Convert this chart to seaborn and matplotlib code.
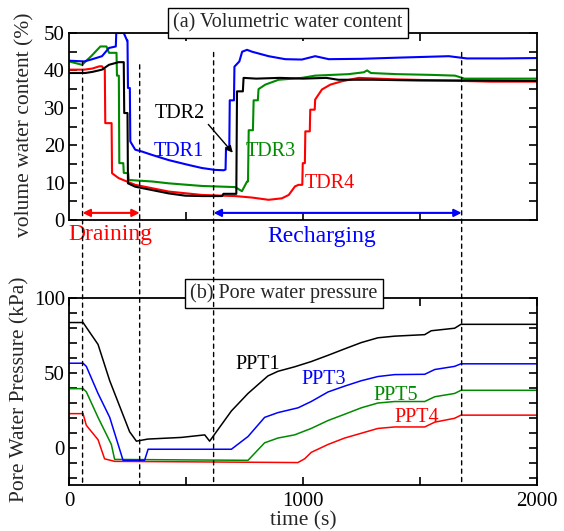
import numpy as np
import pandas as pd
import matplotlib
matplotlib.use("Agg")
import matplotlib.pyplot as plt
import seaborn as sns
from matplotlib.patches import ConnectionPatch

# ---------------- data ----------------
tdr1_t = [0, 65, 100, 141, 171, 200, 202, 234, 248, 250, 252, 260, 262, 283, 312, 355, 427, 512, 568, 624,
          661, 669, 671, 685, 687, 705, 707, 728, 740, 761, 782, 853, 924, 995, 1052, 1110, 1250, 1400, 1623,
          1700, 1850, 2000]
tdr1_v = [42.6, 42.4, 43.0, 43.8, 46.0, 46.4, 50.0, 50.0, 48.0, 48.0, 35.3, 35.3, 21.0, 18.8, 18.3, 17.4, 16.0,
          14.7, 13.9, 13.4, 13.3, 13.5, 19.3, 19.3, 32.0, 32.0, 41.0, 42.4, 45.0, 45.5, 45.0, 43.8, 43.0, 42.9,
          43.8, 43.0, 43.1, 43.4, 43.8, 43.2, 43.2, 43.3]

tdr2_t = [0, 69, 100, 141, 171, 212, 234, 236, 250, 252, 283, 355, 427, 497, 568, 654, 660, 715, 718, 743, 746,
          800, 900, 1000, 1100, 1150, 1300, 1500, 1700, 2000]
tdr2_v = [39.3, 39.3, 39.6, 40.2, 41.5, 42.2, 42.2, 28.6, 28.6, 9.8, 8.9, 8.0, 7.1, 6.5, 6.4, 6.4, 7.0, 7.0, 34.4,
          34.4, 38.0, 37.8, 38.0, 37.8, 38.0, 37.5, 37.5, 37.3, 37.3, 37.2]

tdr3_t = [0, 56, 98, 134, 160, 171, 203, 205, 213, 215, 232, 234, 253, 255, 355, 427, 568, 710, 739, 761, 765,
          768, 786, 789, 807, 810, 839, 896, 995, 1052, 1195, 1260, 1274, 1290, 1400, 1550, 1650, 1690, 2000]
tdr3_v = [42.4, 41.5, 44.0, 46.4, 46.4, 44.7, 44.7, 38.6, 38.6, 15.2, 15.2, 12.6, 12.5, 10.7, 10.3, 9.8, 9.1, 8.8,
          7.7, 10.3, 10.3, 24.0, 24.0, 32.0, 32.0, 35.0, 36.2, 37.5, 38.0, 38.6, 39.0, 39.5, 40.0, 39.3, 39.0,
          38.8, 38.6, 37.8, 37.8]

tdr4_t = [0, 65, 100, 130, 141, 150, 153, 155, 182, 184, 212, 283, 355, 427, 568, 710, 782, 853, 910, 939, 966,
          981, 997, 999, 1008, 1010, 1029, 1031, 1050, 1052, 1081, 1117, 1167, 1238, 1400, 1600, 1800, 2000]
tdr4_v = [40.2, 40.2, 40.5, 41.1, 41.1, 40.3, 40.3, 25.9, 25.9, 12.5, 11.2, 9.4, 8.5, 7.6, 6.7, 6.4, 6.0, 5.4,
          5.8, 6.7, 9.0, 9.4, 9.4, 15.2, 15.2, 23.7, 23.7, 29.5, 29.5, 32.2, 34.9, 36.2, 37.1, 38.0, 37.6, 37.3,
          37.0, 37.0]

ppt1_t = [0, 60, 81, 124, 174, 259, 288, 337, 480, 580, 601, 694, 765, 850, 893, 964, 1035, 1107, 1178, 1249,
          1320, 1392, 1520, 1548, 1648, 1675, 2000]
ppt1_v = [83.6, 83.6, 78.8, 69.0, 44.7, 10.6, 4.3, 5.7, 6.8, 8.5, 4.3, 24.5, 36.2, 47.9, 51.0, 54.0, 57.5, 61.7,
          66.0, 70.2, 73.4, 74.5, 75.5, 78.1, 79.8, 82.4, 82.4]

ppt3_t = [0, 60, 74, 124, 174, 231, 323, 338, 694, 765, 836, 893, 979, 1035, 1107, 1178, 1249, 1320, 1392, 1520,
          1563, 1648, 1675, 2000]
ppt3_v = [56.4, 56.4, 54.3, 36.2, 20.2, -8.5, -8.5, -1.1, -1.1, 7.4, 20.2, 23.4, 26.6, 30.8, 37.2, 41.1, 44.7,
          47.5, 48.8, 49.0, 52.2, 54.3, 56.0, 56.0]

ppt5_t = [0, 60, 74, 124, 181, 195, 765, 836, 893, 964, 1035, 1107, 1178, 1249, 1320, 1392, 1520, 1563, 1648,
          1675, 2000]
ppt5_v = [39.4, 39.4, 37.3, 20.2, 2.1, -7.9, -8.5, 3.2, 6.4, 8.5, 12.8, 18.1, 22.3, 26.6, 29.8, 30.8, 30.8, 34.0,
          36.2, 38.3, 38.3]

ppt4_t = [0, 60, 74, 124, 152, 195, 500, 978, 1007, 1035, 1107, 1178, 1249, 1320, 1392, 1520, 1563, 1648, 1675,
          2000]
ppt4_v = [22.7, 22.7, 14.9, 5.3, -7.5, -9.2, -9.5, -10.0, -7.5, -3.2, 2.1, 6.4, 9.6, 12.8, 13.8, 13.8, 17.0,
          19.6, 21.7, 21.7]

tdr_names = ["TDR1", "TDR2", "TDR3", "TDR4"]
ppt_names = ["PPT1", "PPT3", "PPT5", "PPT4"]
phase_times = [58, 302, 618, 1678]
phase_names = ["Draining", "Recharging"]

# ---------------- style ----------------
sns.set_style("ticks")
plt.rcParams["font.family"] = ["Liberation Serif", "DejaVu Serif"]
plt.rcParams["mathtext.fontset"] = "stix"

BLUE = "#0000ff"
GREEN = "#008a00"
RED = "#ff0000"
BLACK = "#000000"
tdr_colors = {"TDR1": BLUE, "TDR2": BLACK, "TDR3": GREEN, "TDR4": RED}
ppt_colors = {"PPT1": BLACK, "PPT3": BLUE, "PPT5": GREEN, "PPT4": RED}

tdr_df = pd.concat([
    pd.DataFrame({"time": t, "value": v, "sensor": n})
    for n, t, v in zip(tdr_names, [tdr1_t, tdr2_t, tdr3_t, tdr4_t], [tdr1_v, tdr2_v, tdr3_v, tdr4_v])
], ignore_index=True)
ppt_df = pd.concat([
    pd.DataFrame({"time": t, "value": v, "sensor": n})
    for n, t, v in zip(ppt_names, [ppt1_t, ppt3_t, ppt5_t, ppt4_t], [ppt1_v, ppt3_v, ppt5_v, ppt4_v])
], ignore_index=True)

W, H = 564, 531
fig = plt.figure(figsize=(W / 100, H / 100), dpi=100)
L, R = 69, 537
ax1 = fig.add_axes([L / W, 1 - 220 / H, (R - L) / W, 187 / H])
ax2 = fig.add_axes([L / W, 1 - 485 / H, (R - L) / W, 187 / H])

for n in ["TDR4", "TDR3", "TDR2", "TDR1"]:
    sub = tdr_df[tdr_df["sensor"] == n]
    sns.lineplot(data=sub, x="time", y="value", ax=ax1, color=tdr_colors[n], lw=1.5,
                 sort=False, estimator=None, legend=False)
for n in ["PPT4", "PPT5", "PPT3", "PPT1"]:
    sub = ppt_df[ppt_df["sensor"] == n]
    sns.lineplot(data=sub, x="time", y="value", ax=ax2, color=ppt_colors[n], lw=1.1,
                 sort=False, estimator=None, legend=False)

FS = 15
for ax in (ax1, ax2):
    ax.set_xlim(0, 2000)
    for s in ax.spines.values():
        s.set_linewidth(1.3)
        s.set_color("black")
        s.set_zorder(6)
    ax.tick_params(which="both", direction="in", top=True, right=True, length=6, width=1.2,
                   color="black", labelcolor="black", labelsize=FS, zorder=6)

ax1.set_ylim(0, 50)
ax1.set_yticks([0, 10, 20, 30, 40, 50])
ax1.set_yticks([5, 15, 25, 35, 45], minor=True)
ax1.set_xticks([500, 1000, 1500])
ax1.tick_params(axis="x", labelbottom=False)
ax1.tick_params(axis="y", pad=3)
ax1.set_xlabel("")
ax1.set_ylabel("volume water content (%)", fontsize=FS + 0.5)
ax1.yaxis.set_label_coords(-0.094, 0.508)
ax1.yaxis.label.set_verticalalignment("center")

ax2.set_ylim(-25, 100)
ax2.set_yticks([0, 50, 100])
ax2.set_yticks([-20, -10, 10, 20, 30, 40, 60, 70, 80, 90], minor=True)
ax2.set_xticks([0, 1000, 2000])
ax2.set_xticklabels(["0", "1000", "2000"])
ax2.set_xticks([500, 1500], minor=True)
ax2.tick_params(axis="x", pad=5)
ax2.tick_params(axis="y", pad=3)
ax2.set_xlabel("time (s)", fontsize=FS + 0.5, labelpad=0)
ax2.set_ylabel("Pore Water Pressure (kPa)", fontsize=FS + 0.5)
ax2.yaxis.set_label_coords(-0.105, 0.513)
ax2.yaxis.label.set_verticalalignment("center")

# panel titles
box = dict(boxstyle="square,pad=0.25", fc="white", ec="black", lw=1)
ax1.text(0.468, 1.053, "(a) Volumetric water content", transform=ax1.transAxes, ha="center", va="center",
         fontsize=14.5, bbox=box, zorder=10, clip_on=False)
ax2.text(0.459, 1.024, "(b) Pore water pressure", transform=ax2.transAxes, ha="center", va="center",
         fontsize=14.5, bbox=box, zorder=10, clip_on=False)

# dashed phase lines spanning both panels
tops = [42.4, 41.5, 44.8, 44.8]
for t, vt in zip(phase_times, tops):
    cp = ConnectionPatch(xyA=(t, vt), coordsA=ax1.transData, xyB=(t, -25), coordsB=ax2.transData,
                         color="black", lw=1.0, linestyle=(0, (3, 3)), zorder=5)
    fig.add_artist(cp)

# phase arrows
ax1.annotate("", xy=(phase_times[0], 1.9), xytext=(phase_times[1], 1.9),
             arrowprops=dict(arrowstyle="<|-|>", color=RED, lw=1.5, shrinkA=0, shrinkB=0, mutation_scale=11))
ax1.annotate("", xy=(phase_times[2], 1.9), xytext=(phase_times[3], 1.9),
             arrowprops=dict(arrowstyle="<|-|>", color=BLUE, lw=1.5, shrinkA=0, shrinkB=0, mutation_scale=11))
ax1.text(175, -4.0, phase_names[0], color=RED, fontsize=17, ha="center", va="center", clip_on=False)
ax1.text(1081, -4.5, phase_names[1], color=BLUE, fontsize=17, ha="center", va="center", clip_on=False)

# sensor labels
ax1.annotate("TDR2", xy=(700, 18.0), xytext=(474, 28.6), color=BLACK, fontsize=14.5, ha="center", va="center",
             arrowprops=dict(arrowstyle="-|>", color="black", lw=1, shrinkA=0, shrinkB=0, mutation_scale=10,
                             relpos=(1.0, 0.1)))
ax1.text(469, 18.3, "TDR1", color=BLUE, fontsize=14.5, ha="center", va="center")
ax1.text(862, 18.3, "TDR3", color=GREEN, fontsize=14.5, ha="center", va="center")
ax1.text(1114, 9.8, "TDR4", color=RED, fontsize=14.5, ha="center", va="center")

ax2.text(805, 55.4, "PPT1", color=BLACK, fontsize=14.5, ha="center", va="center")
ax2.text(1090, 45.8, "PPT3", color=BLUE, fontsize=14.5, ha="center", va="center")
ax2.text(1395, 35.1, "PPT5", color=GREEN, fontsize=14.5, ha="center", va="center")
ax2.text(1487, 19.8, "PPT4", color=RED, fontsize=14.5, ha="center", va="center")

fig.savefig("out.png", dpi=100)
